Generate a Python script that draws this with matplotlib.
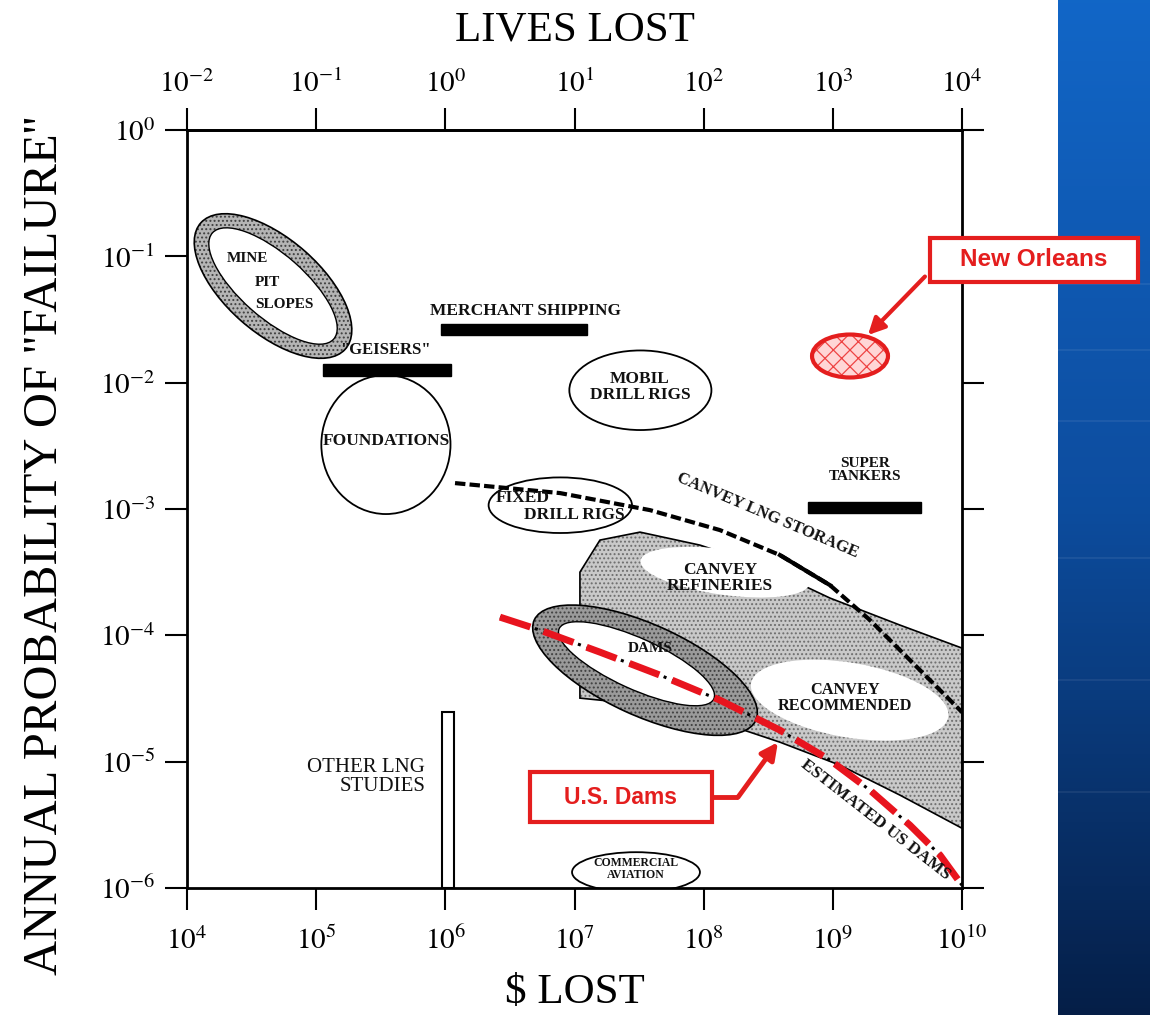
import numpy as np
import matplotlib
matplotlib.use('Agg')
import matplotlib.pyplot as plt
from matplotlib.patches import Ellipse, Polygon, Rectangle

plt.rcParams['font.family'] = ['Liberation Serif', 'DejaVu Serif']
plt.rcParams['mathtext.fontset'] = 'stix'
plt.rcParams['hatch.linewidth'] = 0.9

# ---------------- data (log10 units) ----------------
dollar_exp = [4, 5, 6, 7, 8, 9, 10]
lives_exp = [-2, -1, 0, 1, 2, 3, 4]
prob_exp = [0, -1, -2, -3, -4, -5, -6]

# horizontal bars: x from/to (log10 $), y (log10 p)
bar_names = ['GEISERS', 'MERCHANT SHIPPING', 'SUPER TANKERS']
bar_x0 = [5.05, 5.97, 8.81]
bar_x1 = [6.04, 7.10, 9.68]
bar_y = [-1.90, -1.58, -2.99]

# plain ellipses: centre x, centre y, width, height (log units)
ell_names = ['FOUNDATIONS', 'MOBIL DRILL RIGS', 'FIXED DRILL RIGS', 'COMMERCIAL AVIATION']
ell_cx = [5.54, 7.51, 6.89, 7.476]
ell_cy = [-2.49, -2.06, -2.97, -5.875]
ell_w = [1.00, 1.10, 1.11, 0.99]
ell_h = [1.10, 0.63, 0.44, 0.317]

# mine pit slopes (stippled ring)
mine_c = (4.666, -1.235)
mine_outer = (1.50, 0.74, -42)
mine_inner = (1.26, 0.50, -42)

# dams (stippled ring)
dams_c_outer = (7.546, -4.276)
dams_outer = (1.89, 0.72, -25)
dams_c_inner = (7.480, -4.225)
dams_inner = (1.32, 0.40, -25)

# Canvey region outline
canvey_x = [7.042, 7.197, 7.507, 7.972, 8.436, 8.978, 9.520, 10.0,
            10.0, 9.520, 9.055, 8.591, 8.126, 7.662, 7.042]
canvey_y = [-3.500, -3.246, -3.183, -3.286, -3.444, -3.705, -3.919, -4.101,
            -5.527, -5.265, -5.028, -4.846, -4.687, -4.561, -4.497]
refin_c = (8.165, -3.50); refin_size = (1.32, 0.36, -8)
recom_c = (9.13, -4.513); recom_size = (1.55, 0.59, -10)

# Canvey LNG storage curve
lng_x = [6.075, 6.888, 7.585, 8.126, 8.591, 8.978, 9.288, 9.597, 9.868, 10.0]
lng_y = [-2.795, -2.874, -3.009, -3.167, -3.365, -3.603, -3.880, -4.196, -4.473, -4.608]

# estimated US dams curve
dams_x = [6.423, 6.733, 7.197, 7.662, 8.126, 8.591, 8.978, 9.288, 9.597, 9.830, 10.0]
dams_y = [-3.856, -3.959, -4.133, -4.315, -4.513, -4.751, -4.988, -5.226, -5.503, -5.740, -5.978]

# other LNG studies column
lng_col_x = (5.974, 6.067)
lng_col_y = (-6.0, -4.61)

# New Orleans
no_c = (9.133, -1.789); no_size = (0.588, 0.34)

# ---------------- figure ----------------
fig = plt.figure(figsize=(11.5, 10.15), dpi=100)
fig.patch.set_facecolor('white')

# blue side panel
bax = fig.add_axes([1058 / 1150, 0, 92 / 1150, 1], zorder=0)
g = np.linspace(0, 1, 300)[:, None, None]
top = np.array([0.07, 0.40, 0.78])
mid = np.array([0.05, 0.30, 0.62])
bot = np.array([0.02, 0.12, 0.28])
img = np.where(g < 0.5, top * (1 - g / 0.5) + mid * (g / 0.5),
               mid * (1 - (g - 0.5) / 0.5) + bot * ((g - 0.5) / 0.5))
img = np.repeat(img, 10, axis=1)
bax.imshow(img, aspect='auto', extent=[0, 1, 0, 1], origin='upper')
for yy in [0.72, 0.655, 0.585, 0.45, 0.33, 0.22]:
    bax.axhline(yy, color='white', alpha=0.08, lw=1.2)
bax.set_xlim(0, 1); bax.set_ylim(0, 1)
bax.axis('off')

ax = fig.add_axes([187 / 1150, 127 / 1015, 775 / 1150, 758 / 1015], zorder=5)
ax.set_xlim(4, 10)
ax.set_ylim(-6, 0)
ax.set_facecolor('white')

ax.set_xticks(dollar_exp)
ax.set_xticklabels([r'$10^{%d}$' % e for e in dollar_exp])
ax.set_yticks(prob_exp)
ax.set_yticklabels([r'$10^{%d}$' % e for e in prob_exp])
ax.tick_params(axis='both', direction='out', length=16, width=1.5, labelsize=21, pad=7)
ax.tick_params(axis='x', pad=12)
ax.tick_params(axis='y', right=True)
for s in ax.spines.values():
    s.set_linewidth(2.0)

sec = ax.secondary_xaxis('top', functions=(lambda x: x - 6, lambda x: x + 6))
sec.set_xticks(lives_exp)
sec.set_xticklabels([r'$10^{%d}$' % e for e in lives_exp])
sec.tick_params(direction='out', length=16, width=1.5, labelsize=21, pad=7)
sec.spines['top'].set_linewidth(2.0)

fig.text(575 / 1150, 1 - 30 / 1015, 'LIVES LOST', ha='center', va='center', fontsize=31)
fig.text(575 / 1150, 1 - 993 / 1015, '$ LOST', ha='center', va='center', fontsize=31)
fig.text(45 / 1150, 1 - 545 / 1015, "ANNUAL PROBABILITY OF ''FAILURE''", ha='center',
         va='center', rotation=90, fontsize=35)


def stipple(patch_fn, face, hatchcol, z, outline=True):
    ax.add_patch(patch_fn(facecolor=face, edgecolor='none', zorder=z))
    ax.add_patch(patch_fn(facecolor='none', edgecolor=hatchcol, hatch='....', lw=0, zorder=z))
    if outline:
        ax.add_patch(patch_fn(facecolor='none', edgecolor='black', lw=1.2, zorder=z))


# Canvey gray region
stipple(lambda **k: Polygon(np.column_stack([canvey_x, canvey_y]), closed=True, **k),
        '#c9c9c9', '#6e6e6e', 2)
ax.add_patch(Ellipse(refin_c, refin_size[0], refin_size[1], angle=refin_size[2],
                     facecolor='white', edgecolor='none', zorder=3))
ax.add_patch(Ellipse(recom_c, recom_size[0], recom_size[1], angle=recom_size[2],
                     facecolor='white', edgecolor='none', zorder=3))

# Dams ring
stipple(lambda **k: Ellipse(dams_c_outer, dams_outer[0], dams_outer[1], angle=dams_outer[2], **k),
        '#9a9a9a', '#404040', 4)
ax.add_patch(Ellipse(dams_c_inner, dams_inner[0], dams_inner[1], angle=dams_inner[2],
                     facecolor='white', edgecolor='black', lw=1.0, zorder=4.5))

# Mine pit slopes ring
stipple(lambda **k: Ellipse(mine_c, mine_outer[0], mine_outer[1], angle=mine_outer[2], **k),
        '#b5b5b5', '#404040', 4)
ax.add_patch(Ellipse(mine_c, mine_inner[0], mine_inner[1], angle=mine_inner[2],
                     facecolor='white', edgecolor='black', lw=1.0, zorder=4.5))

# plain ellipses
for cx, cy, w, h in zip(ell_cx, ell_cy, ell_w, ell_h):
    ax.add_patch(Ellipse((cx, cy), w, h, facecolor='none', edgecolor='black', lw=1.3, zorder=5))

# bars
for x0, x1, y in zip(bar_x0, bar_x1, bar_y):
    ax.add_patch(Rectangle((x0, y - 0.045), x1 - x0, 0.09, facecolor='black',
                           edgecolor='black', zorder=5))

# other LNG column
ax.add_patch(Rectangle((lng_col_x[0], lng_col_y[0]), lng_col_x[1] - lng_col_x[0],
                       lng_col_y[1] - lng_col_y[0], facecolor='white', edgecolor='black',
                       lw=1.5, zorder=5))

# Canvey LNG storage curve
ax.plot(lng_x, lng_y, color='black', lw=3, linestyle=(0, (2.5, 1.0)), zorder=6)
ax.plot(lng_x[4:6], lng_y[4:6], color='black', lw=3, zorder=6)

# estimated US dams (black) and red overlay
ax.plot(dams_x, dams_y, color='black', lw=2.2, linestyle=(0, (1, 2)), zorder=6)
ax.plot(dams_x, dams_y, color='#e8141e', lw=5, linestyle=(0, (4.6, 2.0)), zorder=7,
        solid_capstyle='butt')

# New Orleans ellipse
ax.add_patch(Ellipse(no_c, no_size[0], no_size[1], facecolor='#ffd6d6', edgecolor='none', zorder=8))
ax.add_patch(Ellipse(no_c, no_size[0], no_size[1], facecolor='none', edgecolor='#ee4444',
                     hatch='xx', lw=0, zorder=8))
ax.add_patch(Ellipse(no_c, no_size[0], no_size[1], facecolor='none', edgecolor='#e41e1e',
                     lw=3, zorder=8))

# ---------------- labels ----------------
lab = dict(fontweight='bold', color='#111111', zorder=9, ha='center', va='center')
ax.text(4.47, -1.015, 'MINE', fontsize=11, **lab)
ax.text(4.62, -1.205, 'PIT', fontsize=11, **lab)
ax.text(4.75, -1.385, 'SLOPES', fontsize=11, **lab)
ax.text(5.533, -1.742, '"GEISERS"', fontsize=12, **lab)
ax.text(6.617, -1.433, 'MERCHANT SHIPPING', fontsize=12.5, **lab)
ax.text(7.507, -2.035, 'MOBIL\nDRILL RIGS', fontsize=12.5, linespacing=1.0, **lab)
ax.text(5.541, -2.462, 'FOUNDATIONS', fontsize=12.5, **lab)
ax.text(6.60, -2.914, 'FIXED', fontsize=12.5, **lab)
ax.text(7.0, -3.050, 'DRILL RIGS', fontsize=12.5, **lab)
ax.text(8.498, -3.048, 'CANVEY LNG STORAGE', fontsize=12, rotation=-23, **lab)
ax.text(9.249, -2.692, 'SUPER\nTANKERS', fontsize=11, linespacing=1.0, **lab)
ax.text(8.126, -3.547, 'CANVEY\nREFINERIES', fontsize=12.5, linespacing=1.0, **lab)
ax.text(7.584, -4.101, 'DAMS', fontsize=11, **lab)
ax.text(9.094, -4.497, 'CANVEY\nRECOMMENDED', fontsize=11.7, linespacing=1.0, **lab)
ax.text(9.327, -5.463, 'ESTIMATED US DAMS', fontsize=12.5, rotation=-38, **lab)
ax.text(5.843, -5.123, 'OTHER LNG\nSTUDIES', fontsize=15, linespacing=1.0,
        ha='right', va='center', color='#111111', zorder=9)
ax.text(7.476, -5.851, 'COMMERCIAL\nAVIATION', fontsize=8.5, linespacing=1.0, **lab)

# ---------------- red call-out boxes ----------------
red = '#e41e1e'
# New Orleans box
ax.add_patch(Rectangle((9.752, -1.203), 11.362 - 9.752, 1.203 - 0.855, facecolor='white',
                       edgecolor=red, lw=3, zorder=10, clip_on=False))
ax.text(10.557, -1.029, 'New Orleans', fontsize=17.5, fontweight='bold', color=red,
        family='Liberation Sans', ha='center', va='center', zorder=11, clip_on=False)
ax.annotate('', xy=(9.272, -1.623), xytext=(9.713, -1.16),
            arrowprops=dict(arrowstyle='-|>,head_length=1.0,head_width=0.5', color=red,
                            lw=3, shrinkA=0, shrinkB=0), zorder=10, annotation_clip=False)

# U.S. Dams box
ax.add_patch(Rectangle((6.655, -5.479), 8.064 - 6.655, 5.479 - 5.083, facecolor='white',
                       edgecolor=red, lw=3, zorder=10))
ax.text(7.36, -5.281, 'U.S. Dams', fontsize=16.5, fontweight='bold', color=red,
        family='Liberation Sans', ha='center', va='center', zorder=11)
ax.plot([8.064, 8.266], [-5.281, -5.281], color=red, lw=3.5, zorder=10, solid_capstyle='butt')
ax.annotate('', xy=(8.575, -4.846), xytext=(8.266, -5.281),
            arrowprops=dict(arrowstyle='-|>,head_length=1.0,head_width=0.5', color=red,
                            lw=3.5, shrinkA=0, shrinkB=0), zorder=10)

fig.savefig('out.png', dpi=100, facecolor='white')
